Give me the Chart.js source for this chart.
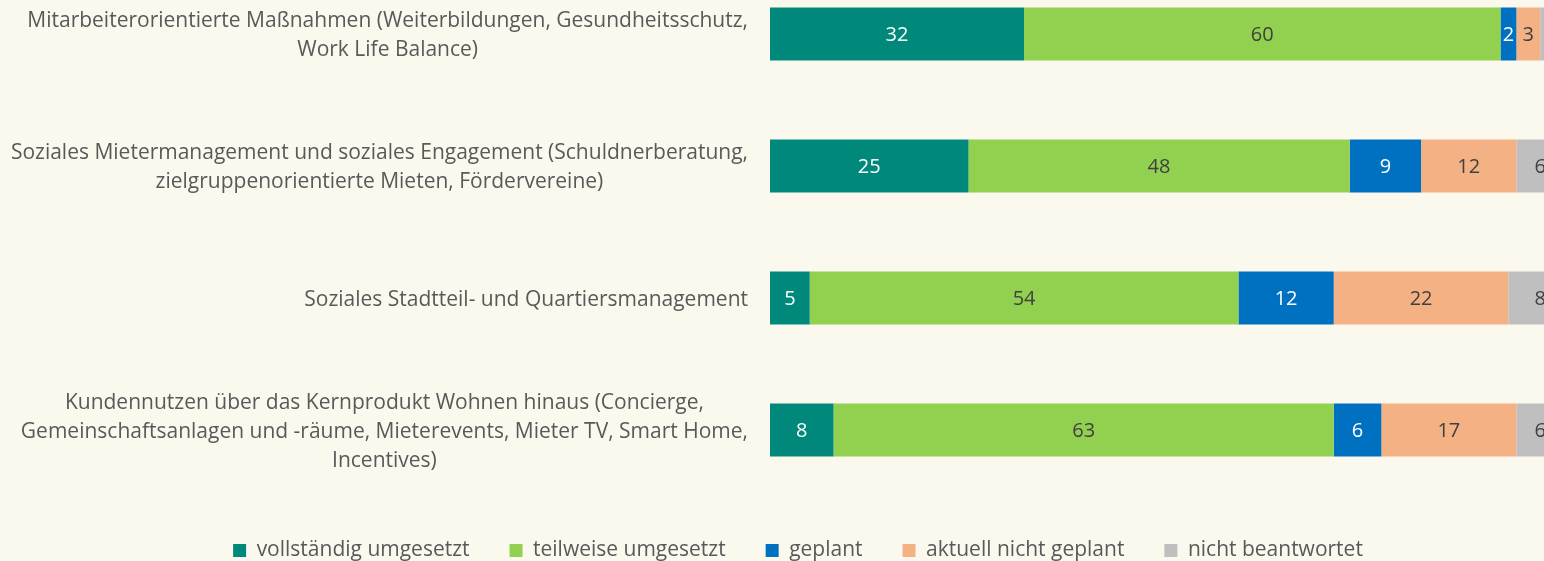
<!DOCTYPE html>
<html>
<head>
<meta charset="utf-8">
<script src="https://cdn.jsdelivr.net/npm/chart.js@4.4.1/dist/chart.umd.min.js"></script>
<style>
  html, body { margin: 0; padding: 0; overflow: hidden; background: #FBF8EE; }
  body { width: 1544px; height: 561px; position: relative; }
  #wrap { position: absolute; left: 0; top: -32px; width: 1596px; height: 603px; }
</style>
</head>
<body>
<div id="wrap"><canvas id="chart"></canvas></div>
<script>
const categories = [
    ["Mitarbeiterorientierte Maßnahmen (Weiterbildungen, Gesundheitsschutz,", "Work Life Balance)"],
    ["Soziales Mietermanagement und soziales Engagement (Schuldnerberatung,", "zielgruppenorientierte Mieten, Fördervereine)"],
    ["Soziales Stadtteil- und Quartiersmanagement"],
    ["Kundennutzen über das Kernprodukt Wohnen hinaus (Concierge,", "Gemeinschaftsanlagen und -räume, Mieterevents, Mieter TV, Smart Home,", "Incentives)"]
];
const seriesNames = ["vollständig umgesetzt", "teilweise umgesetzt", "geplant", "aktuell nicht geplant", "nicht beantwortet"];
const vollstaendig = [32, 25, 5, 8];
const teilweise = [60, 48, 54, 63];
const geplant = [2, 9, 12, 6];
const nichtGeplant = [3, 12, 22, 17];
const nichtBeantwortet = [3, 6, 8, 6];

const colors = ["#00897B", "#92D050", "#0070C0", "#F4B183", "#BFBFBF"];
const labelColors = ["#FFFFFF", "#404040", "#FFFFFF", "#404040", "#404040"];
const FONT = "'Open Sans'";

// Werte in die Balken schreiben
const valueLabels = {
    id: "valueLabels",
    afterDatasetsDraw(chart) {
        const ctx = chart.ctx;
        ctx.save();
        ctx.font = "20px " + FONT;
        ctx.textAlign = "center";
        ctx.textBaseline = "middle";
        chart.data.datasets.forEach((ds, i) => {
            const meta = chart.getDatasetMeta(i);
            meta.data.forEach((bar, j) => {
                ctx.fillStyle = labelColors[i];
                ctx.fillText(ds.data[j], (bar.x + bar.base) / 2, bar.y + 1);
            });
        });
        ctx.restore();
    }
};

// Kategorien: Block rechtsbündig, Zeilen zentriert
const categoryLabels = {
    id: "categoryLabels",
    afterDraw(chart) {
        const ctx = chart.ctx;
        const yScale = chart.scales.y;
        const right = chart.chartArea.left - 22;
        ctx.save();
        ctx.font = "21px " + FONT;
        ctx.fillStyle = "#595959";
        ctx.textAlign = "center";
        ctx.textBaseline = "middle";
        categories.forEach((lines, i) => {
            const y = yScale.getPixelForValue(i) + 2;
            const maxW = Math.max(...lines.map(l => ctx.measureText(l).width));
            const cx = right - maxW / 2;
            lines.forEach((l, k) => {
                ctx.fillText(l, cx, y + (k - (lines.length - 1) / 2) * 29);
            });
        });
        ctx.restore();
    }
};

const allData = [vollstaendig, teilweise, geplant, nichtGeplant, nichtBeantwortet];

new Chart(document.getElementById("chart").getContext("2d"), {
    type: "bar",
    data: {
        labels: categories.map(c => c.join(" ")),
        datasets: allData.map((d, i) => ({
            label: seriesNames[i],
            data: d,
            backgroundColor: colors[i],
            borderWidth: 0,
            categoryPercentage: 1,
            barPercentage: 0.4
        }))
    },
    options: {
        indexAxis: "y",
        responsive: true,
        maintainAspectRatio: false,
        animation: false,
        layout: { padding: 0 },
        scales: {
            x: {
                stacked: true, min: 0, max: 100,
                grid: { display: false },
                border: { display: false },
                ticks: { display: false },
                afterFit(scale) { scale.height = 4; }
            },
            y: {
                stacked: true,
                grid: { display: false },
                border: { display: false },
                ticks: { display: false },
                afterFit(scale) { scale.width = 770; }
            },
            // leere Achse rechts, damit die Legende über die volle Breite zentriert bleibt
            yRight: {
                position: "right",
                grid: { display: false },
                border: { display: false },
                ticks: { display: false },
                afterFit(scale) { scale.width = 32; }
            }
        },
        plugins: {
            tooltip: { enabled: false },
            legend: {
                position: "bottom",
                labels: {
                    boxWidth: 13,
                    boxHeight: 13,
                    padding: 40,
                    color: "#595959",
                    font: { family: "Open Sans", size: 21 }
                }
            }
        }
    },
    plugins: [valueLabels, categoryLabels]
});
</script>
</body>
</html>
